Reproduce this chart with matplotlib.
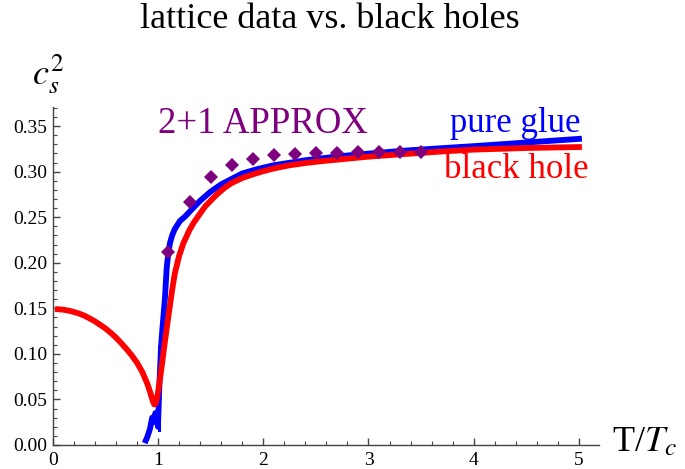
import numpy as np
import matplotlib
matplotlib.use("Agg")
import matplotlib.pyplot as plt
from matplotlib.ticker import MultipleLocator, FormatStrFormatter

# black hole curve (red)
bh_T = [0.05, 0.1, 0.15, 0.2, 0.25, 0.3, 0.35, 0.4, 0.45, 0.5, 0.55, 0.6,
        0.65, 0.7, 0.75, 0.8, 0.85, 0.9, 0.93, 0.95, 0.965, 0.98, 1.0, 1.02,
        1.04, 1.06, 1.08, 1.1, 1.12, 1.14, 1.16, 1.2, 1.24, 1.3, 1.34, 1.4,
        1.45, 1.5, 1.56, 1.63, 1.7, 1.8, 1.9, 2.0, 2.1, 2.25, 2.4, 2.55, 2.73,
        3.0, 3.36, 3.7, 4.0, 4.5, 5.0]
bh_cs2 = [0.149, 0.1485, 0.1475, 0.146, 0.1443, 0.142, 0.139, 0.1358, 0.132,
          0.128, 0.1233, 0.118, 0.112, 0.1055, 0.0985, 0.0905, 0.0805, 0.067,
          0.0565, 0.0485, 0.0445, 0.0455, 0.057, 0.073, 0.090, 0.108, 0.125,
          0.142, 0.158, 0.174, 0.188, 0.207, 0.221, 0.236, 0.244, 0.254, 0.262,
          0.268, 0.275, 0.282, 0.2875, 0.293, 0.297, 0.3005, 0.3035, 0.307,
          0.3095, 0.3115, 0.3135, 0.3165, 0.3195, 0.3222, 0.3242, 0.326, 0.327]

# pure glue lattice curve (blue)
glue_T = [0.885, 0.9, 0.925, 0.945, 0.96, 0.975, 0.99, 1.0, 1.015, 1.03,
          1.04, 1.055, 1.067, 1.083, 1.10, 1.115, 1.135, 1.16, 1.21, 1.26,
          1.3, 1.4, 1.5, 1.6, 1.7, 1.8, 1.95, 2.1, 2.4, 2.73, 3.0, 3.36, 3.7,
          4.0, 4.5, 5.0]
glue_cs2 = [0.005, 0.009, 0.018, 0.030, 0.025, 0.035, 0.033, 0.020, 0.070,
            0.108, 0.124, 0.145, 0.162, 0.194, 0.212, 0.222, 0.230, 0.237,
            0.246, 0.251, 0.256, 0.268, 0.278, 0.286, 0.292, 0.298, 0.303,
            0.307, 0.3125, 0.317, 0.3198, 0.3232, 0.3258, 0.328, 0.332, 0.336]

# thin spike in the lattice data just above Tc
spike_T = [1.006, 1.006]
spike_cs2 = [0.016, 0.108]

# 2+1 flavour approximation (purple diamonds)
approx_T = [1.1, 1.3, 1.5, 1.7, 1.9, 2.1, 2.3, 2.5, 2.7, 2.9, 3.1, 3.3, 3.5]
approx_cs2 = [0.212, 0.267, 0.294, 0.307, 0.3136, 0.318, 0.319, 0.321, 0.321,
              0.322, 0.322, 0.322, 0.322]

plt.rcParams['font.family'] = ['Liberation Serif', 'DejaVu Serif']
plt.rcParams['mathtext.fontset'] = 'stix'

fig = plt.figure(figsize=(6.85, 4.69), dpi=100)
ax = fig.add_axes([0.0769, 0.0512, 0.7975, 0.7207])

ax.plot(glue_T, glue_cs2, color='#0000ff', lw=4.2, zorder=2)
ax.plot(spike_T, spike_cs2, color='#0000ff', lw=2.2, zorder=2)
ax.plot(bh_T, bh_cs2, color='#ff0000', lw=4.2, zorder=3)
ax.plot(approx_T, approx_cs2, 'D', color='#7f007f', ms=7.5, mew=0, zorder=4)

ax.set_xlim(0, 5.19)
ax.set_ylim(0, 0.371)
for s in ['top', 'right']:
    ax.spines[s].set_visible(False)
for s in ['left', 'bottom']:
    ax.spines[s].set_color('#444444')
    ax.spines[s].set_linewidth(1.0)

ax.xaxis.set_major_locator(MultipleLocator(1))
ax.xaxis.set_minor_locator(MultipleLocator(0.2))
ax.yaxis.set_major_locator(MultipleLocator(0.05))
ax.yaxis.set_minor_locator(MultipleLocator(0.01))
ax.yaxis.set_major_formatter(FormatStrFormatter('%.2f'))
ax.tick_params(which='both', direction='in', colors='#444444', labelcolor='black',
               labelsize=14)
ax.tick_params(which='major', length=5, width=1)
ax.tick_params(which='minor', length=3, width=0.8)
ax.tick_params(axis='x', which='both', pad=5)
ax.tick_params(axis='y', which='both', pad=4)

ax.text(1.0, 0.353, '2+1 APPROX', color='#7f007f', fontsize=26.5, ha='left', va='center')
ax.text(5.01, 0.353, 'pure glue', color='#0000ff', fontsize=25, ha='right', va='center')
ax.text(5.09, 0.302, 'black hole', color='#ff0000', fontsize=25, ha='right', va='center')

fig.text(330 / 685, 1 - 20 / 469, 'lattice data vs. black holes', fontsize=26,
         ha='center', va='center')
fig.text(48 / 685, 1 - 74 / 469, r'$c_s^2$', fontsize=26, ha='center', va='center')
fig.text(644 / 685, 1 - 443 / 469, r'T/$T_c$', fontsize=26, ha='center', va='center')

fig.savefig('out.png', dpi=100)
